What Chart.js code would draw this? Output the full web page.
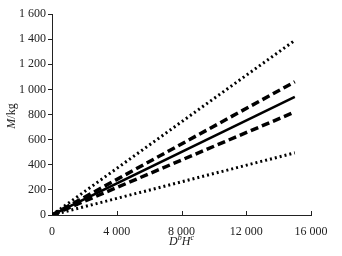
<!DOCTYPE html>
<html>
<head>
<meta charset="utf-8">
<script src="https://cdn.jsdelivr.net/npm/chart.js@4/dist/chart.umd.min.js"></script>
<style>
  html, body { margin: 0; padding: 0; background: #fff; }
  #wrap { width: 342px; height: 256px; }
</style>
</head>
<body>
<div id="wrap"><canvas id="c"></canvas></div>
<script>
const xValues = [0, 15000]
const upperDotted = [0, 1390]
const upperDashed = [0, 1060]
const fitted = [0, 940]
const lowerDashed = [0, 820]
const lowerDotted = [0, 495]
const xTicks = [0, 4000, 8000, 12000, 16000]
const yTicks = [0, 200, 400, 600, 800, 1000, 1200, 1400, 1600]

const FONT = "'Liberation Serif', 'DejaVu Serif', serif"
const INK = '#222'

const fmt = (v) => String(v).replace(/\B(?=(\d{3})+(?!\d))/g, ' ')
const pts = (ys) => xValues.map((x, i) => ({ x, y: ys[i] }))

const series = [
  { data: pts(upperDotted), dash: [2, 3], width: 3 },
  { data: pts(upperDashed), dash: [8, 4], width: 3.5 },
  { data: pts(fitted), dash: [], width: 2.5 },
  { data: pts(lowerDashed), dash: [8, 4], width: 3.5 },
  { data: pts(lowerDotted), dash: [2, 3], width: 3 },
]

const decor = {
  id: 'decor',
  afterDraw(chart) {
    const { ctx, scales: { x, y }, chartArea } = chart
    ctx.save()
    // inward x ticks
    ctx.strokeStyle = INK
    ctx.lineWidth = 1
    xTicks.forEach((t) => {
      if (t === 0) return
      const px = Math.round(x.getPixelForValue(t)) + 0.5
      ctx.beginPath()
      ctx.moveTo(px, chartArea.bottom)
      ctx.lineTo(px, chartArea.bottom - 4)
      ctx.stroke()
    })
    // x title  D^b H^c
    ctx.fillStyle = INK
    ctx.textBaseline = 'alphabetic'
    const parts = [
      ['D', 'italic 12px ' + FONT, 0],
      ['b', 'italic 8px ' + FONT, -5],
      ['H', 'italic 12px ' + FONT, 0],
      ['c', 'italic 8px ' + FONT, -5],
    ]
    let w = 0
    parts.forEach(([t, f]) => { ctx.font = f; w += ctx.measureText(t).width })
    let cx = (chartArea.left + chartArea.right) / 2 - w / 2
    const by = 245
    parts.forEach(([t, f, dy]) => {
      ctx.font = f
      ctx.fillText(t, cx, by + dy)
      cx += ctx.measureText(t).width
    })
    // y title  M/kg
    ctx.translate(15, 116)
    ctx.rotate(-Math.PI / 2)
    ctx.font = 'italic 12px ' + FONT
    const mW = ctx.measureText('M').width
    ctx.font = '12px ' + FONT
    const rW = ctx.measureText('/kg').width
    let sx = -(mW + rW) / 2
    ctx.font = 'italic 12px ' + FONT
    ctx.fillText('M', sx, 0)
    ctx.font = '12px ' + FONT
    ctx.fillText('/kg', sx + mW, 0)
    ctx.restore()
  },
}

new Chart(document.getElementById('c'), {
  type: 'line',
  data: {
    datasets: series.map((s) => ({
      data: s.data,
      borderColor: '#000',
      borderWidth: s.width,
      borderDash: s.dash,
      pointRadius: 0,
      fill: false,
      tension: 0,
    })),
  },
  options: {
    responsive: true,
    maintainAspectRatio: false,
    animation: false,
    layout: { padding: { left: 0, top: 14, right: 31, bottom: 0 } },
    plugins: { legend: { display: false }, tooltip: { enabled: false } },
    scales: {
      x: {
        type: 'linear',
        min: 0,
        max: 16000,
        afterBuildTicks: (s) => { s.ticks = xTicks.map((v) => ({ value: v })) },
        afterFit: (s) => { s.height = 41 },
        border: { color: INK, width: 1 },
        grid: { display: false },
        ticks: {
          color: INK,
          font: { family: FONT, size: 12 },
          padding: 2,
          maxRotation: 0,
          callback: (v) => fmt(v),
        },
      },
      y: {
        min: 0,
        max: 1600,
        afterBuildTicks: (s) => { s.ticks = yTicks.map((v) => ({ value: v })) },
        afterFit: (s) => { s.width = 52 },
        border: { color: INK, width: 1 },
        grid: { drawOnChartArea: false, drawTicks: true, tickLength: 4, color: INK },
        ticks: {
          color: INK,
          font: { family: FONT, size: 12 },
          padding: 2,
          callback: (v) => fmt(v),
        },
      },
    },
  },
  plugins: [decor],
})
</script>
</body>
</html>
